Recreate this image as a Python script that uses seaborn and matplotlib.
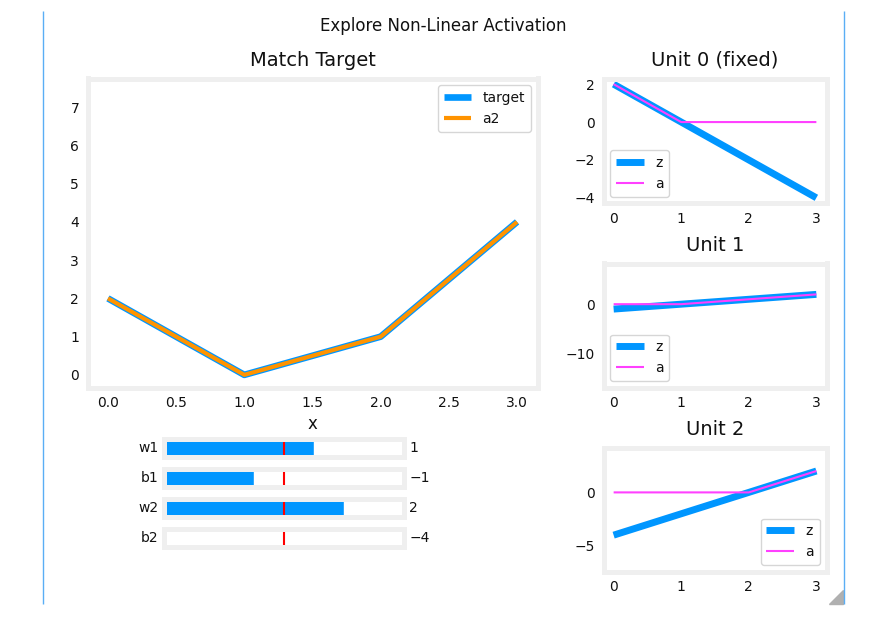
import matplotlib
matplotlib.use("Agg")
import matplotlib.pyplot as plt
import seaborn as sns
from matplotlib.lines import Line2D
from matplotlib.patches import Polygon

# ---- data ----
x = [0, 1, 2, 3]
target = [2, 0, 1, 4]
a2_out = [2, 0, 1, 4]
z0 = [2, 0, -2, -4]
a0 = [2, 0, 0, 0]
z1 = [-1, 0, 1, 2]
a1 = [0, 0, 1, 2]
z2 = [-4, -2, 0, 2]
a2 = [0, 0, 0, 2]
slider_names = ["w1", "b1", "w2", "b2"]
slider_values = [1, -1, 2, -4]
slider_texts = ["1", "\u22121", "2", "\u22124"]
slider_min, slider_max, slider_init = -4, 4, 0

BLUE = "#0096ff"
ORANGE = "#ff9300"
MAGENTA = "#ff40ff"
FRAME = "#efefef"
TXT = "#111111"

sns.set_theme(style="white")
plt.rcParams["font.family"] = ["DejaVu Sans"]
plt.rcParams["lines.solid_capstyle"] = "butt"
plt.rcParams["lines.solid_joinstyle"] = "round"
plt.rcParams["text.color"] = TXT
plt.rcParams["axes.labelcolor"] = TXT

W, H = 871, 626
fig = plt.figure(figsize=(W / 100, H / 100), dpi=100)


def fpos(x0, y0, x1, y1):
    return [x0 / W, 1 - y1 / H, (x1 - x0) / W, (y1 - y0) / H]


def style(ax):
    for s in ax.spines.values():
        s.set_color(FRAME)
        s.set_linewidth(3.6)
    ax.tick_params(length=0, labelsize=10, pad=6, colors=TXT)


# main axes
ax = fig.add_axes(fpos(87.5, 78.5, 537.5, 387.5))
sns.lineplot(x=x, y=target, ax=ax, color=BLUE, lw=4.8, label="target")
sns.lineplot(x=x, y=a2_out, ax=ax, color=ORANGE, lw=3, label="a2")
ax.set_ylim(-0.33, 7.75)
ax.set_xlim(-0.15, 3.15)
ax.set_yticks(range(0, 8))
ax.set_xticks([0, 0.5, 1, 1.5, 2, 2.5, 3])
ax.set_title("Match Target", fontsize=14, pad=9)
ax.set_xlabel("x", fontsize=12, labelpad=4)
style(ax)
ax.legend(loc="upper right", fontsize=10, frameon=True)

units = [("Unit 0 (fixed)", z0, a0, (78.5, 203.5), None, "lower left"),
         ("Unit 1", z1, a1, (263.5, 387.5), (-17, 8.3), "lower left"),
         ("Unit 2", z2, a2, (447.5, 571.5), (-7.4, 4.2), "lower right")]
for title, z, a, (yt, yb), ylim, loc in units:
    u = fig.add_axes(fpos(603.5, yt, 826.5, yb))
    sns.lineplot(x=x, y=z, ax=u, color=BLUE, lw=5, label="z")
    sns.lineplot(x=x, y=a, ax=u, color=MAGENTA, lw=1.5, label="a")
    u.set_xlim(-0.15, 3.15)
    if ylim is not None:
        u.set_ylim(*ylim)
    u.set_xticks([0, 1, 2, 3])
    u.set_title(title, fontsize=14, pad=9)
    style(u)
    u.legend(loc=loc, fontsize=10, frameon=True)

# sliders
for i, (name, val, txt) in enumerate(zip(slider_names, slider_values, slider_texts)):
    yt = 438.5 + 30 * i
    s = fig.add_axes(fpos(163.5, yt, 403.5, yt + 18))
    s.set_xlim(slider_min, slider_max)
    s.set_ylim(0, 1)
    if val > slider_min:
        s.barh(0.5, val - slider_min, left=slider_min, height=1.0, color=BLUE)
    s.axvline(slider_init, color="red", lw=1.5, ymin=0, ymax=1)
    s.set_xticks([])
    s.set_yticks([])
    for sp in s.spines.values():
        sp.set_color(FRAME)
        sp.set_linewidth(3.6)
    s.text(-0.02, 0.5, name, transform=s.transAxes, ha="right", va="center",
           fontsize=10, color=TXT)
    s.text(1.025, 0.5, txt, transform=s.transAxes, ha="left", va="center",
           fontsize=10, color=TXT)

fig.suptitle("Explore Non-Linear Activation", x=443.5 / W, y=1 - 26 / H,
             va="center", fontsize=12, color=TXT)

# widget border lines and resize handle
for xx in (42.5, 843.5):
    fig.add_artist(Line2D([xx / W, xx / W], [1 - 11 / H, 1 - 604 / H],
                          color="#5aaef5", lw=1.0, transform=fig.transFigure))
fig.add_artist(Polygon([[843 / W, 1 - 590 / H], [843 / W, 1 - 604 / H], [829 / W, 1 - 604 / H]],
                       closed=True, color="#b0b0b0", transform=fig.transFigure))

fig.savefig("out.png", dpi=100)
